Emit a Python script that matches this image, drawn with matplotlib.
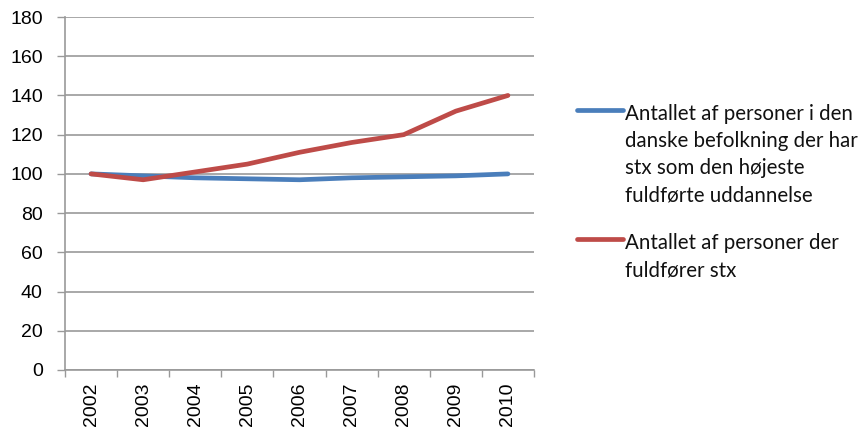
import matplotlib
matplotlib.use("Agg")
import matplotlib.pyplot as plt
from matplotlib.lines import Line2D
import numpy as np

years = ["2002", "2003", "2004", "2005", "2006", "2007", "2008", "2009", "2010"]
befolkning = [100, 99, 98, 97.5, 97, 98, 98.5, 99, 100]
fuldforer = [100, 97, 101, 105, 111, 116, 120, 132, 140]
labels = ["Antallet af personer i den\ndanske befolkning der har\nstx som den højeste\nfuldførte uddannelse",
          "Antallet af personer der\nfuldfører stx"]
yticks = list(range(0, 181, 20))
colors = ["#4A7EBB", "#BE4B48"]

W, H = 866, 429
fig = plt.figure(figsize=(W/100, H/100), dpi=100)
ax = fig.add_axes([65/W, 1-370/H, (534-65)/W, (370-17)/H])

x = np.arange(len(years))
ax.plot(x, befolkning, color=colors[0], lw=3.4, solid_capstyle="round")
ax.plot(x, fuldforer, color=colors[1], lw=3.4, solid_capstyle="round")

ax.set_xlim(-0.5, len(years) - 0.5)
ax.set_ylim(0, 180)
ax.set_yticks(yticks)
ax.set_yticklabels([str(v) for v in yticks], fontsize=14, family="Liberation Sans")
ax.set_xticks(x)
ax.set_xticklabels(years, rotation=90, fontsize=14, family="Liberation Sans")
ax.set_xticks(np.arange(-0.5, len(years), 1), minor=True)
ax.tick_params(axis="x", which="major", length=0, pad=9)
ax.tick_params(axis="x", which="minor", length=5, color="#999999", width=1)
ax.tick_params(axis="y", length=6, color="#999999", width=1, pad=10)

ax.grid(axis="y", color="#999999", lw=1.2)
ax.set_axisbelow(True)
for s in ["top", "right"]:
    ax.spines[s].set_visible(False)
for s in ["left", "bottom"]:
    ax.spines[s].set_color("#999999")
    ax.spines[s].set_linewidth(1.2)

# legend drawn manually: handle aligned with first text line
entries = [(110, labels[0], colors[0]), (239, labels[1], colors[1])]
for ypix, lab, col in entries:
    fig.add_artist(Line2D([577/W, 623/W], [1-ypix/H, 1-ypix/H], color=col, lw=3.4,
                          solid_capstyle="round", transform=fig.transFigure))
    fig.text(625/W, 1-(ypix-6)/H, lab, ha="left", va="top", fontsize=14.8,
             family="Lato", linespacing=1.45, color="#111111")

fig.savefig("out.png", dpi=100)
